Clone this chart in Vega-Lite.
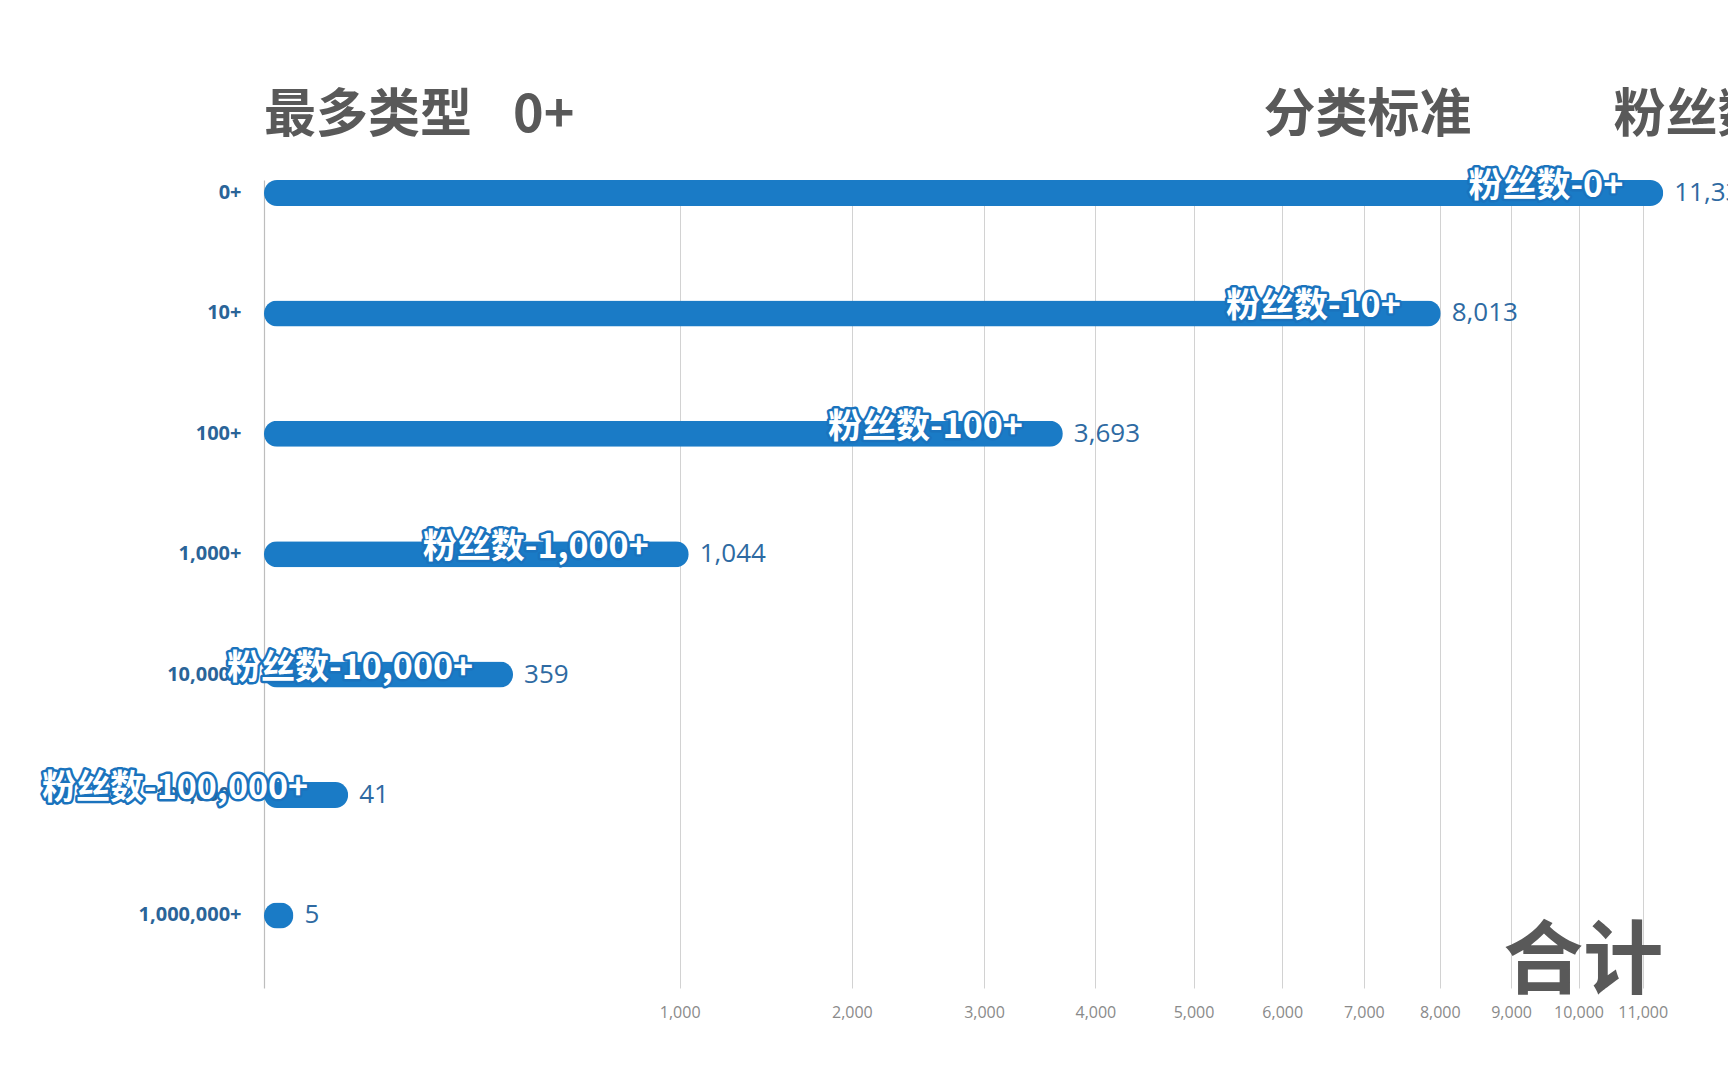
{
  "$schema": "https://vega.github.io/schema/vega-lite/v6.json",
  "autosize": {"type": "none"},
  "padding": {"left": 264, "top": 180, "right": 24, "bottom": 92},
  "width": 1440,
  "height": 808,
  "background": "#ffffff",
  "config": {"view": {"stroke": null}},
  "data": {
    "values": [
      {"cat": "0+", "label": "粉丝数-0+", "value": 11330},
      {"cat": "10+", "label": "粉丝数-10+", "value": 8013},
      {"cat": "100+", "label": "粉丝数-100+", "value": 3693},
      {"cat": "1,000+", "label": "粉丝数-1,000+", "value": 1044},
      {"cat": "10,000+", "label": "粉丝数-10,000+", "value": 359},
      {"cat": "100,000+", "label": "粉丝数-100,000+", "value": 41},
      {"cat": "1,000,000+", "label": "", "value": 5}
    ]
  },
  "encoding": {
    "y": {
      "field": "cat",
      "type": "nominal",
      "sort": null,
      "scale": {"paddingInner": 0.784, "paddingOuter": 0.2475, "align": 0},
      "axis": {
        "title": null,
        "ticks": false,
        "labelPadding": 23,
        "labelFont": "Open Sans",
        "labelFontWeight": "bold",
        "labelFontSize": 20,
        "labelColor": "#2a6498",
        "domain": true,
        "domainColor": "#bdbdbd",
        "domainWidth": 1.2,
        "grid": false
      }
    }
  },
  "layer": [
    {
      "mark": {"type": "bar", "color": "#1a7bc6", "cornerRadius": 13},
      "encoding": {
        "x": {
          "field": "value",
          "type": "quantitative",
          "scale": {"type": "sqrt", "domain": [0, 12000], "nice": false},
          "axis": {
            "title": null,
            "values": [1000, 2000, 3000, 4000, 5000, 6000, 7000, 8000, 9000, 10000, 11000],
            "labelExpr": "format(datum.value, ',')",
            "grid": true,
            "gridColor": "#d2d2d2",
            "gridWidth": 1,
            "domain": false,
            "ticks": false,
            "labelPadding": 16,
            "labelFont": "Open Sans",
            "labelFontSize": 16,
            "labelColor": "#8a8a8a"
          }
        }
      }
    },
    {
      "mark": {"type": "text", "align": "left", "baseline": "middle", "dx": 11, "font": "Open Sans", "fontSize": 26, "color": "#2e6aa2"},
      "encoding": {
        "x": {"field": "value", "type": "quantitative"},
        "text": {"field": "value", "type": "quantitative", "format": ","}
      }
    },
    {
      "mark": {"type": "text", "align": "right", "baseline": "middle", "dx": -40, "dy": -6, "font": "Noto Sans CJK SC", "fontWeight": "bold", "fontSize": 34, "fill": "#1a73bd", "stroke": "#1a73bd", "strokeWidth": 5, "strokeJoin": "round"},
      "encoding": {
        "x": {"field": "value", "type": "quantitative"},
        "text": {"field": "label"}
      }
    },
    {
      "mark": {"type": "text", "align": "right", "baseline": "middle", "dx": -40, "dy": -6, "font": "Noto Sans CJK SC", "fontWeight": "bold", "fontSize": 34, "fill": "#ffffff"},
      "encoding": {
        "x": {"field": "value", "type": "quantitative"},
        "text": {"field": "label"}
      }
    },
    {
      "data": {"values": [{"t": "最多类型\u2002\u00a0\u200a0+"}]},
      "mark": {"type": "text", "align": "left", "baseline": "middle", "dy": -77, "font": "Noto Sans CJK SC", "fontWeight": "bold", "fontSize": 52, "color": "#595959"},
      "encoding": {
        "x": {"datum": 0, "type": "quantitative"},
        "y": {"datum": "0+"},
        "text": {"field": "t"}
      }
    },
    {
      "data": {"values": [{"t": "分类标准"}]},
      "mark": {"type": "text", "align": "left", "baseline": "middle", "dy": -77, "font": "Noto Sans CJK SC", "fontWeight": "bold", "fontSize": 52, "color": "#595959"},
      "encoding": {
        "x": {"datum": 5780, "type": "quantitative"},
        "y": {"datum": "0+"},
        "text": {"field": "t"}
      }
    },
    {
      "data": {"values": [{"t": "粉丝数"}]},
      "mark": {"type": "text", "align": "left", "baseline": "middle", "dy": -77, "font": "Noto Sans CJK SC", "fontWeight": "bold", "fontSize": 52, "color": "#595959"},
      "encoding": {
        "x": {"datum": 10540, "type": "quantitative"},
        "y": {"datum": "0+"},
        "text": {"field": "t"}
      }
    },
    {
      "data": {"values": [{"t": "合计"}]},
      "mark": {"type": "text", "align": "center", "baseline": "middle", "dy": 48, "font": "Noto Sans CJK SC", "fontWeight": "bold", "fontSize": 80, "color": "#595959"},
      "encoding": {
        "x": {"datum": 10070, "type": "quantitative"},
        "y": {"datum": "1,000,000+"},
        "text": {"field": "t"}
      }
    }
  ]
}
